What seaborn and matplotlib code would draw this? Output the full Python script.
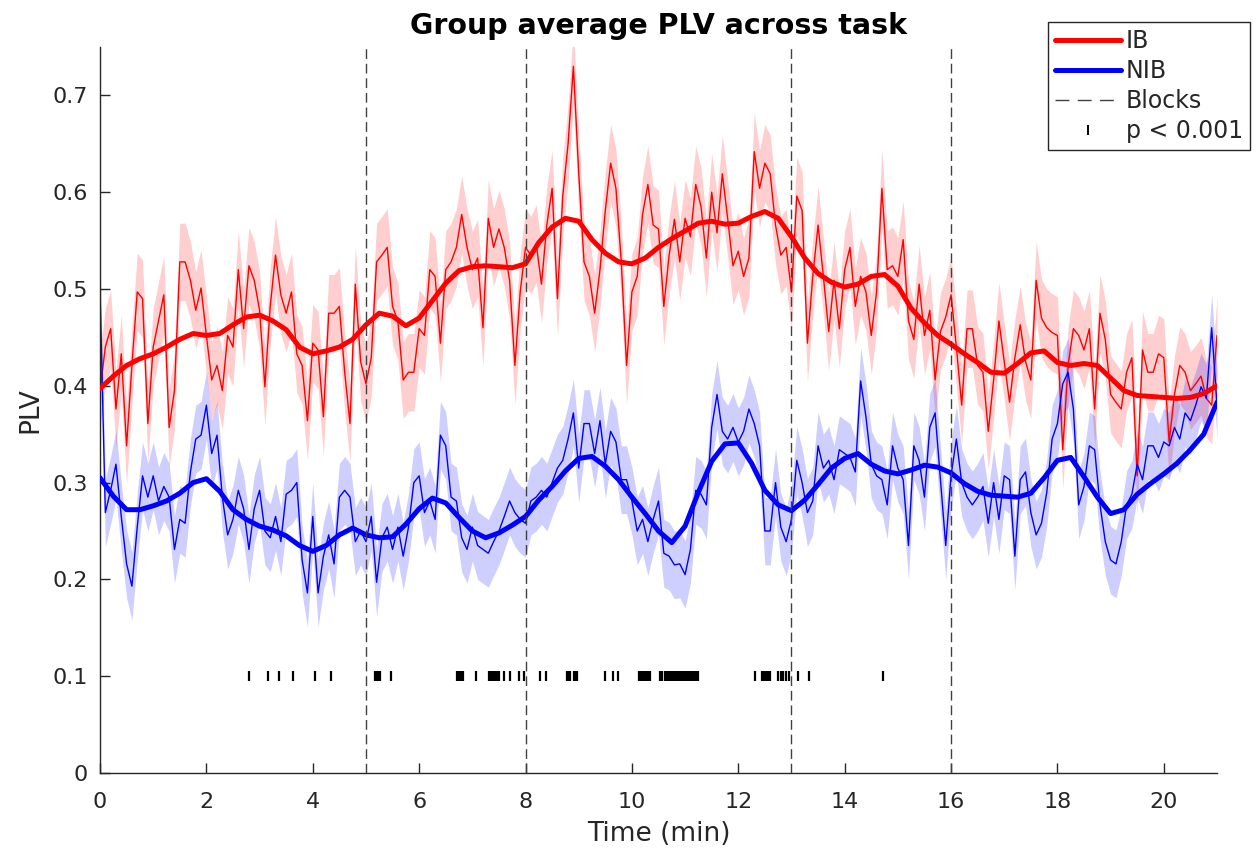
import numpy as np
import pandas as pd
import matplotlib
matplotlib.use("Agg")
import matplotlib.pyplot as plt
from matplotlib.lines import Line2D
import seaborn as sns

# ---- data -------------------------------------------------------------
# sample times (min) of the raw PLV traces and of the smoothed traces
t_raw = np.round(np.arange(0, 21.001, 0.1), 2)
t_smooth = np.round(np.arange(0, 21.001, 0.25), 2)

ib_raw = [
    0.395, 0.440, 0.459, 0.376, 0.433, 0.338, 0.421, 0.497, 0.490, 0.361,
    0.440, 0.467, 0.494, 0.357, 0.395, 0.528, 0.528, 0.509, 0.478, 0.501,
    0.452, 0.406, 0.421, 0.395, 0.452, 0.440, 0.520, 0.459, 0.524, 0.509,
    0.478, 0.399, 0.482, 0.535, 0.494, 0.475, 0.497, 0.433, 0.421, 0.364,
    0.444, 0.437, 0.368, 0.475, 0.475, 0.482, 0.414, 0.361, 0.505, 0.425,
    0.402, 0.429, 0.528, 0.535, 0.543, 0.482, 0.467, 0.406, 0.414, 0.414,
    0.459, 0.452, 0.520, 0.513, 0.444, 0.520, 0.528, 0.543, 0.577, 0.543,
    0.520, 0.532, 0.460, 0.573, 0.543, 0.562, 0.543, 0.509, 0.421, 0.497,
    0.543, 0.535, 0.547, 0.505, 0.566, 0.604, 0.490, 0.596, 0.650, 0.730,
    0.620, 0.528, 0.513, 0.475, 0.520, 0.581, 0.630, 0.604, 0.528, 0.421,
    0.497, 0.513, 0.577, 0.608, 0.566, 0.562, 0.482, 0.535, 0.572, 0.528,
    0.573, 0.554, 0.608, 0.585, 0.532, 0.600, 0.558, 0.619, 0.573, 0.524,
    0.539, 0.513, 0.532, 0.642, 0.604, 0.630, 0.619, 0.566, 0.535, 0.543,
    0.497, 0.596, 0.581, 0.444, 0.513, 0.566, 0.513, 0.456, 0.509, 0.459,
    0.520, 0.543, 0.482, 0.513, 0.497, 0.452, 0.497, 0.604, 0.520, 0.524,
    0.513, 0.551, 0.467, 0.448, 0.505, 0.452, 0.478, 0.406, 0.456, 0.471,
    0.494, 0.440, 0.380, 0.459, 0.459, 0.421, 0.414, 0.353, 0.406, 0.467,
    0.425, 0.383, 0.429, 0.463, 0.425, 0.406, 0.509, 0.470, 0.460, 0.455,
    0.452, 0.334, 0.421, 0.459, 0.452, 0.437, 0.459, 0.376, 0.475, 0.448,
    0.391, 0.383, 0.376, 0.414, 0.429, 0.307, 0.437, 0.414, 0.414, 0.433,
    0.429, 0.342, 0.391, 0.421, 0.414, 0.395, 0.402, 0.410, 0.387, 0.380,
    0.452,
]

nib_raw = [
    0.500, 0.269, 0.292, 0.319, 0.265, 0.216, 0.193, 0.254, 0.307, 0.285,
    0.307, 0.281, 0.296, 0.285, 0.231, 0.262, 0.258, 0.311, 0.345, 0.349,
    0.380, 0.330, 0.349, 0.285, 0.246, 0.262, 0.292, 0.273, 0.231, 0.273,
    0.292, 0.250, 0.243, 0.265, 0.239, 0.288, 0.292, 0.300, 0.220, 0.186,
    0.265, 0.186, 0.224, 0.246, 0.216, 0.285, 0.292, 0.285, 0.239, 0.250,
    0.239, 0.265, 0.197, 0.243, 0.254, 0.231, 0.254, 0.224, 0.254, 0.300,
    0.307, 0.269, 0.281, 0.262, 0.349, 0.338, 0.285, 0.281, 0.243, 0.231,
    0.254, 0.235, 0.231, 0.227, 0.239, 0.250, 0.265, 0.281, 0.269, 0.262,
    0.258, 0.281, 0.285, 0.292, 0.285, 0.300, 0.315, 0.323, 0.345, 0.372,
    0.315, 0.361, 0.361, 0.330, 0.364, 0.319, 0.353, 0.342, 0.303, 0.303,
    0.281, 0.250, 0.262, 0.239, 0.262, 0.281, 0.227, 0.224, 0.215, 0.216,
    0.205, 0.231, 0.292, 0.288, 0.277, 0.357, 0.391, 0.353, 0.345, 0.357,
    0.342, 0.353, 0.376, 0.361, 0.338, 0.250, 0.250, 0.300, 0.254, 0.239,
    0.262, 0.323, 0.300, 0.269, 0.281, 0.338, 0.315, 0.323, 0.303, 0.334,
    0.330, 0.326, 0.311, 0.405, 0.368, 0.319, 0.307, 0.303, 0.277, 0.338,
    0.315, 0.303, 0.235, 0.338, 0.323, 0.285, 0.357, 0.372, 0.303, 0.235,
    0.307, 0.345, 0.300, 0.285, 0.277, 0.285, 0.296, 0.258, 0.300, 0.262,
    0.307, 0.303, 0.224, 0.303, 0.311, 0.269, 0.246, 0.258, 0.290, 0.345,
    0.361, 0.402, 0.414, 0.376, 0.277, 0.296, 0.338, 0.334, 0.277, 0.239,
    0.220, 0.216, 0.239, 0.277, 0.288, 0.319, 0.303, 0.338, 0.338, 0.326,
    0.342, 0.338, 0.357, 0.345, 0.372, 0.364, 0.380, 0.399, 0.387, 0.460,
    0.380,
]

ib_smooth = [
    0.397, 0.410, 0.421, 0.428, 0.433, 0.440, 0.448, 0.454, 0.452, 0.454,
    0.463, 0.471, 0.473, 0.467, 0.458, 0.440, 0.433, 0.436, 0.440, 0.448,
    0.463, 0.475, 0.472, 0.462, 0.470, 0.488, 0.506, 0.519, 0.523, 0.524,
    0.523, 0.522, 0.526, 0.548, 0.564, 0.573, 0.570, 0.551, 0.537, 0.528,
    0.526, 0.532, 0.543, 0.552, 0.560, 0.568, 0.570, 0.567, 0.568, 0.575,
    0.580, 0.573, 0.554, 0.532, 0.516, 0.507, 0.502, 0.505, 0.513, 0.515,
    0.503, 0.480, 0.465, 0.452, 0.443, 0.433, 0.424, 0.414, 0.413, 0.423,
    0.434, 0.436, 0.424, 0.421, 0.423, 0.421, 0.408, 0.395, 0.390, 0.389,
    0.388, 0.387, 0.388, 0.392, 0.400,
]

nib_smooth = [
    0.305, 0.286, 0.272, 0.272, 0.276, 0.281, 0.289, 0.300, 0.304, 0.291,
    0.272, 0.262, 0.255, 0.251, 0.245, 0.235, 0.229, 0.235, 0.246, 0.253,
    0.246, 0.243, 0.244, 0.257, 0.273, 0.284, 0.279, 0.264, 0.250, 0.243,
    0.248, 0.256, 0.265, 0.282, 0.296, 0.312, 0.325, 0.327, 0.317, 0.303,
    0.285, 0.268, 0.250, 0.238, 0.255, 0.290, 0.322, 0.340, 0.341, 0.320,
    0.292, 0.277, 0.271, 0.282, 0.298, 0.315, 0.325, 0.330, 0.319, 0.312,
    0.309, 0.313, 0.318, 0.316, 0.310, 0.299, 0.291, 0.287, 0.286, 0.285,
    0.289, 0.305, 0.323, 0.326, 0.306, 0.285, 0.268, 0.272, 0.288, 0.299,
    0.309, 0.320, 0.334, 0.350, 0.383,
]

# standard error of the group mean (shaded band half-width)
ib_sem = 0.040
nib_sem = 0.035

# block boundaries (min)
block_edges = [5, 8, 13, 16]

# time points with significant IB vs NIB difference (p < 0.001)
sig_times = [
    2.81, 3.15, 3.37, 3.62, 4.04, 4.34,
    5.17, 5.20, 5.23, 5.26, 5.47,
    6.71, 6.74, 6.77, 6.80, 6.83, 7.07,
    7.32, 7.35, 7.38, 7.41, 7.44, 7.47, 7.50, 7.60, 7.70, 7.88, 7.97,
    8.27, 8.38, 8.78, 8.81, 8.84, 8.91, 8.94, 8.97,
    9.49, 9.65, 9.74,
    10.13, 10.16, 10.19, 10.22, 10.25, 10.28, 10.31, 10.34, 10.53, 10.56,
    10.62, 10.65, 10.68, 10.71, 10.74, 10.77, 10.80, 10.83, 10.86, 10.89,
    10.92, 10.95, 10.98, 11.01, 11.04, 11.07, 11.10, 11.13, 11.16, 11.19,
    11.22, 11.25,
    12.31, 12.44, 12.47, 12.50, 12.53, 12.56, 12.59, 12.75, 12.80, 12.85,
    12.90, 12.96, 13.12, 13.33, 14.72,
]
sig_level = 0.1

# ---- figure -----------------------------------------------------------
sns.set_style("ticks")
plt.rcParams["font.family"] = ["DejaVu Sans"]

fig = plt.figure(figsize=(12.6, 8.57), dpi=100)
ax = fig.add_axes([100 / 1260, 1 - 773 / 857, 1117 / 1260, (773 - 47) / 857])

raw = pd.DataFrame({"t": t_raw, "IB": ib_raw, "NIB": nib_raw})
smooth = pd.DataFrame({"t": t_smooth, "IB": ib_smooth, "NIB": nib_smooth})

colors = {"IB": (1, 0, 0), "NIB": (0, 0, 1)}
sems = {"IB": ib_sem, "NIB": nib_sem}

for grp in ["IB", "NIB"]:
    y = raw[grp].to_numpy()
    ax.fill_between(raw["t"], y - sems[grp], y + sems[grp],
                    color=colors[grp], alpha=0.19, linewidth=0, zorder=1)
for grp in ["IB", "NIB"]:
    sns.lineplot(data=raw, x="t", y=grp, color=colors[grp], linewidth=1.0,
                 ax=ax, zorder=2, legend=False)
for grp in ["IB", "NIB"]:
    sns.lineplot(data=smooth, x="t", y=grp, color=colors[grp], linewidth=3.6,
                 ax=ax, zorder=3, legend=False, solid_joinstyle="round",
                 solid_capstyle="round")

for xb in block_edges:
    ax.axvline(xb, color="0.25", linewidth=1.0, linestyle=(0, (7, 3.5)), zorder=4)

sig = pd.DataFrame({"t": sig_times, "y": [sig_level] * len(sig_times)})
ax.plot(sig["t"], sig["y"], linestyle="none", marker="|", color="k",
        markersize=7, markeredgewidth=1.6, zorder=5)

ax.set_xlim(0, 21)
ax.set_ylim(0, 0.75)
ax.set_xticks(np.arange(0, 21, 2))
ax.set_yticks([0, 0.1, 0.2, 0.3, 0.4, 0.5, 0.6, 0.7])
ax.set_yticklabels(["0", "0.1", "0.2", "0.3", "0.4", "0.5", "0.6", "0.7"])
ax.tick_params(direction="in", length=7, width=1, labelsize=16,
               colors="0.15")
ax.tick_params(axis="x", pad=14)
ax.tick_params(axis="y", pad=9)
for side in ["top", "right"]:
    ax.spines[side].set_visible(False)
for side in ["left", "bottom"]:
    ax.spines[side].set_color("0.15")
    ax.spines[side].set_linewidth(1.0)

ax.set_xlabel("Time (min)", fontsize=19, color="0.15", labelpad=6)
ax.set_ylabel("PLV", fontsize=19, color="0.15", labelpad=6)
ax.set_title("Group average PLV across task", fontsize=20.5, fontweight="bold",
             color="black", pad=9)

handles = [
    Line2D([], [], color=colors["IB"], linewidth=3.6),
    Line2D([], [], color=colors["NIB"], linewidth=3.6),
    Line2D([], [], color="0.25", linewidth=1.0, linestyle=(0, (10, 6))),
    Line2D([], [], color="k", linestyle="none", marker="|", markersize=7,
           markeredgewidth=1.4),
]
leg = fig.legend(handles, ["IB", "NIB", "Blocks", "p < 0.001"],
                 loc="upper right", bbox_to_anchor=(1250 / 1260, 1 - 22 / 857),
                 bbox_transform=fig.transFigure, fontsize=17, frameon=True,
                 fancybox=False, edgecolor="0.15", framealpha=1,
                 handlelength=2.8, handletextpad=0.2, labelspacing=0.25,
                 borderpad=0.3, borderaxespad=0)
leg.get_frame().set_linewidth(1.0)

fig.savefig("out.png", dpi=100)
